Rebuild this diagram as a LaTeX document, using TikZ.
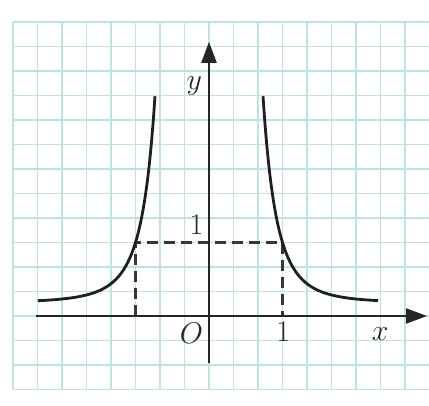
\RequirePackage{fix-cm}
\documentclass[tikz,border=0pt]{standalone}
\usetikzlibrary{arrows.meta}
\definecolor{gridc}{RGB}{192,226,228}
\begin{document}
\begin{tikzpicture}[x=73.5bp,y=73.5bp,
  axis/.style={line width=2.4bp,black!85,-{Triangle[length=21bp,width=15bp]}},
  curve/.style={line width=2.8bp,black!88},
  dashline/.style={line width=2.2bp,black!78,dash pattern=on 11bp off 6bp},
  lbl/.style={font=\fontsize{30}{34}\selectfont,inner sep=0pt,text=black!85}]
\useasboundingbox (-2.8435,-1.2245) rectangle (2.9932,4.2993);
\begin{scope}
  \clip (-2.8435,-1.2245) rectangle (2.9932,4.2993);
  \draw[gridc,line width=1.1bp,step=1/3] (-8/3,-1) grid (3.2,4);
\end{scope}
% dashed guides
\coordinate (A) at (-1,0);
\coordinate (B) at (1,0);
\coordinate (P) at (-1,1);
\coordinate (Q) at (1,1);
\draw[dashline] (A) -- (P) -- (Q) -- (B);
% axes
\coordinate (xs) at (-2.354,0);
\coordinate (xe) at (2.966,0);
\coordinate (ys) at (0,-0.64);
\coordinate (ye) at (0,3.73);
\draw[axis] (xs) -- (xe);
\draw[axis] (ys) -- (ye);
% curves
\draw[curve,domain=0.735:2.3,samples=90,smooth] plot (\x,{0.18+0.82/(\x*\x*\x*\x)});
\draw[curve,domain=0.735:2.33,samples=90,smooth] plot (-\x,{0.18+0.82/(\x*\x*\x*\x)});
% labels
\node[lbl] (ly) at (-0.2,3.13) {$y$};
\node[lbl] (lx) at (2.33,-0.25) {$x$};
\node[lbl] (lo) at (-0.24,-0.24) {$O$};
\node[lbl] (l1x) at (1.01,-0.21) {1};
\node[lbl] (l1y) at (-0.17,1.25) {1};
\end{tikzpicture}
\end{document}
